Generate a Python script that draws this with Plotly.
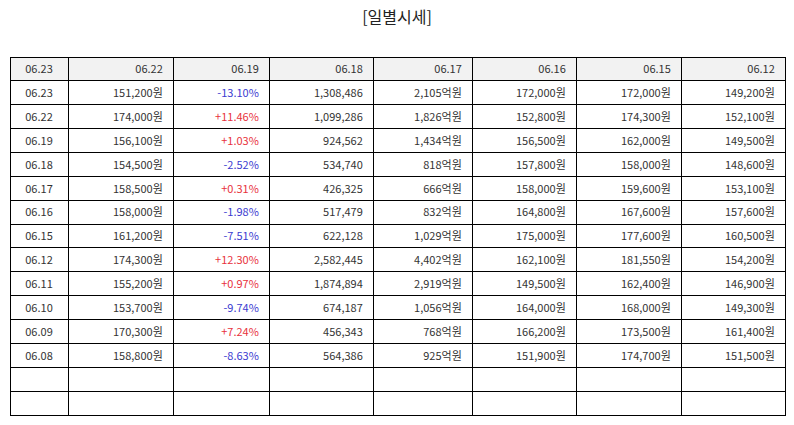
import plotly.graph_objects as go

header_labels = ["06.23", "06.22", "06.19", "06.18", "06.17", "06.16", "06.15", "06.12"]
dates = ["06.23", "06.22", "06.19", "06.18", "06.17", "06.16", "06.15", "06.12",
         "06.11", "06.10", "06.09", "06.08"]
close = [151200, 174000, 156100, 154500, 158500, 158000, 161200, 174300,
         155200, 153700, 170300, 158800]
change_pct = [-13.10, 11.46, 1.03, -2.52, 0.31, -1.98, -7.51, 12.30,
              0.97, -9.74, 7.24, -8.63]
volume = [1308486, 1099286, 924562, 534740, 426325, 517479, 622128, 2582445,
          1874894, 674187, 456343, 564386]
trade_value = [2105, 1826, 1434, 818, 666, 832, 1029, 4402, 2919, 1056, 768, 925]
open_price = [172000, 152800, 156500, 157800, 158000, 164800, 175000, 162100,
              149500, 164000, 166200, 151900]
high_price = [172000, 174300, 162000, 158000, 159600, 167600, 177600, 181550,
              162400, 168000, 173500, 174700]
low_price = [149200, 152100, 149500, 148600, 153100, 157600, 160500, 154200,
             146900, 149300, 161400, 151500]
empty_rows = 2

BLUE = "#3b3bd0"
RED = "#e8323c"
TXT = "#333333"
PADR = "\u2009"  # a little extra right padding, like the reference

def won(v):
    return f"{v:,}원" + PADR

pad = [""] * empty_rows
cols = [
    dates + pad,
    [won(v) for v in close] + pad,
    [f"{v:+.2f}%" + PADR for v in change_pct] + pad,
    [f"{v:,}" + PADR for v in volume] + pad,
    [f"{v:,}억원" + PADR for v in trade_value] + pad,
    [won(v) for v in open_price] + pad,
    [won(v) for v in high_price] + pad,
    [won(v) for v in low_price] + pad,
]
header_vals = [header_labels[0]] + [h + PADR for h in header_labels[1:]]

pct_colors = [BLUE if v < 0 else RED for v in change_pct] + [TXT] * empty_rows
font_colors = [TXT, TXT, pct_colors, TXT, TXT, TXT, TXT, TXT]

W, H = 794, 425
row_h = 23.87
fig = go.Figure(go.Table(
    domain=dict(x=[10 / W, 785 / W], y=[0, 1 - 57 / H]),
    columnwidth=[58, 105, 96, 104, 99, 104, 105, 104],
    header=dict(
        values=header_vals,
        fill_color="#f2f2f2",
        line=dict(color="black", width=1),
        align=["center"] + ["right"] * 7,
        font=dict(family="Noto Sans CJK KR", size=11, color=TXT),
        height=row_h,
    ),
    cells=dict(
        values=cols,
        fill_color="white",
        line=dict(color="black", width=1),
        align=["center"] + ["right"] * 7,
        font=dict(family="Noto Sans CJK KR", size=11, color=font_colors),
        height=row_h,
    ),
))

fig.update_layout(
    width=W, height=H,
    margin=dict(l=0, r=0, t=0, b=0),
    paper_bgcolor="white",
    title=dict(text="[일별시세]", x=397 / W, xanchor="center",
               y=1 - 17 / H, yanchor="middle",
               font=dict(family="Noto Sans CJK KR", size=16, color="#222222")),
)

fig.write_html("out.html", config={"displayModeBar": False},
               post_script="document.body.style.margin='0';")
